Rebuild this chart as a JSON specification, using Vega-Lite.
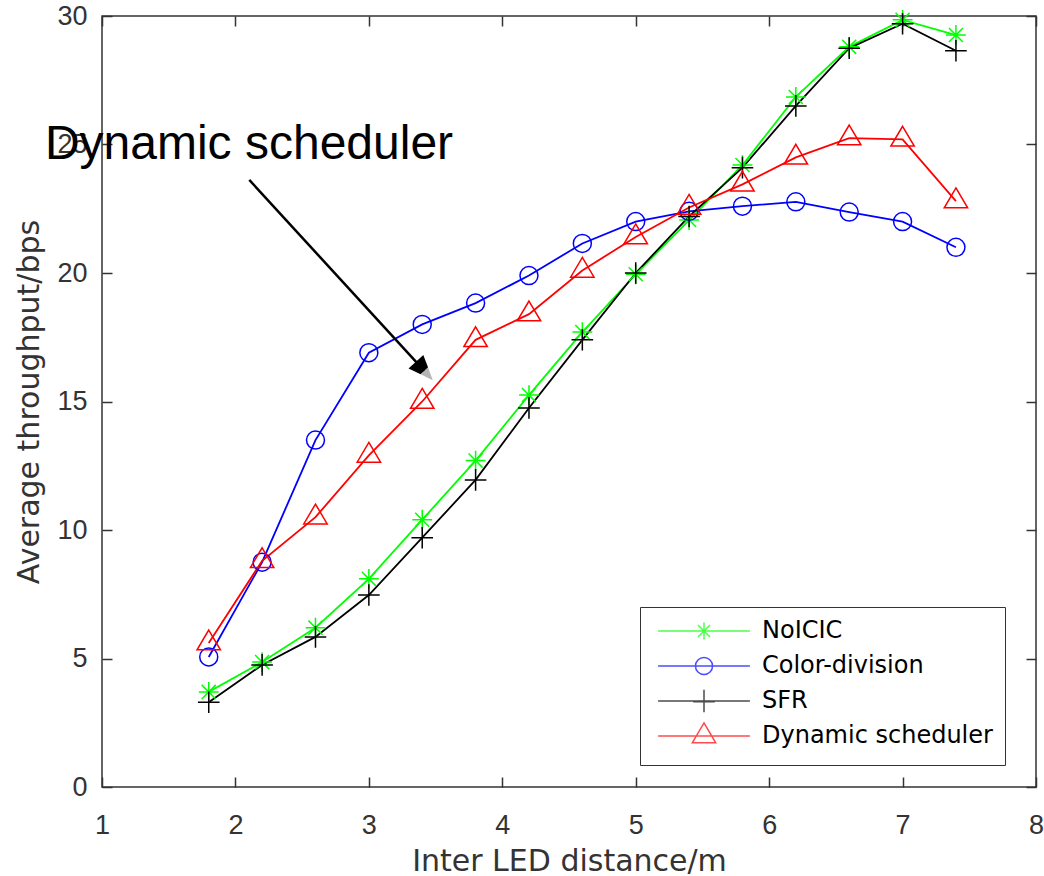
{
  "$schema": "https://vega.github.io/schema/vega-lite/v6.json",
  "width": 934,
  "height": 771,
  "autosize": {"type": "none"},
  "padding": {"left": 102, "top": 16, "right": 8, "bottom": 89},
  "background": "white",
  "config": {
    "view": {"stroke": "#333333", "strokeWidth": 1.5},
    "axis": {
      "domain": false,
      "grid": false,
      "tickColor": "#333333",
      "tickWidth": 1.5,
      "tickSize": -10,
      "labelFont": "Liberation Sans",
      "labelFontSize": 27,
      "labelColor": "#333333",
      "labelFlush": false,
      "labelOverlap": false,
      "titleFont": "DejaVu Sans",
      "titleFontSize": 30,
      "titleFontWeight": "normal",
      "titleColor": "#333333"
    },
    "legend": {
      "orient": "none",
      "legendX": 538,
      "legendY": 591,
      "strokeColor": "#333333",
      "fillColor": "white",
      "padding": 12,
      "labelFont": "DejaVu Sans",
      "labelFontSize": 24,
      "labelColor": "black",
      "labelLimit": 400,
      "symbolSize": 324,
      "symbolStrokeWidth": 1.5,
      "symbolOffset": 40,
      "labelOffset": 46,
      "rowPadding": 1,
      "symbolFillColor": "transparent"
    }
  },
  "datasets": {
    "series": [
      {"s": "NoICIC", "d": 1.8, "t": 3.7},
      {"s": "NoICIC", "d": 2.2, "t": 4.86},
      {"s": "NoICIC", "d": 2.6, "t": 6.2},
      {"s": "NoICIC", "d": 3.0, "t": 8.1},
      {"s": "NoICIC", "d": 3.4, "t": 10.4},
      {"s": "NoICIC", "d": 3.8, "t": 12.7},
      {"s": "NoICIC", "d": 4.2, "t": 15.25},
      {"s": "NoICIC", "d": 4.6, "t": 17.7},
      {"s": "NoICIC", "d": 5.0, "t": 19.95},
      {"s": "NoICIC", "d": 5.4, "t": 22.06},
      {"s": "NoICIC", "d": 5.8, "t": 24.2},
      {"s": "NoICIC", "d": 6.2, "t": 26.85},
      {"s": "NoICIC", "d": 6.6, "t": 28.8},
      {"s": "NoICIC", "d": 7.0, "t": 29.85},
      {"s": "NoICIC", "d": 7.4, "t": 29.26},
      {"s": "Color-division", "d": 1.8, "t": 5.06},
      {"s": "Color-division", "d": 2.2, "t": 8.75},
      {"s": "Color-division", "d": 2.6, "t": 13.5},
      {"s": "Color-division", "d": 3.0, "t": 16.9},
      {"s": "Color-division", "d": 3.4, "t": 18.0},
      {"s": "Color-division", "d": 3.8, "t": 18.83},
      {"s": "Color-division", "d": 4.2, "t": 19.9},
      {"s": "Color-division", "d": 4.6, "t": 21.15},
      {"s": "Color-division", "d": 5.0, "t": 22.0},
      {"s": "Color-division", "d": 5.4, "t": 22.4},
      {"s": "Color-division", "d": 5.8, "t": 22.6},
      {"s": "Color-division", "d": 6.2, "t": 22.77},
      {"s": "Color-division", "d": 6.6, "t": 22.37},
      {"s": "Color-division", "d": 7.0, "t": 22.0},
      {"s": "Color-division", "d": 7.4, "t": 21.0},
      {"s": "SFR", "d": 1.8, "t": 3.3},
      {"s": "SFR", "d": 2.2, "t": 4.75},
      {"s": "SFR", "d": 2.6, "t": 5.84},
      {"s": "SFR", "d": 3.0, "t": 7.47},
      {"s": "SFR", "d": 3.4, "t": 9.7},
      {"s": "SFR", "d": 3.8, "t": 11.95},
      {"s": "SFR", "d": 4.2, "t": 14.75},
      {"s": "SFR", "d": 4.6, "t": 17.4},
      {"s": "SFR", "d": 5.0, "t": 20.0},
      {"s": "SFR", "d": 5.4, "t": 22.2},
      {"s": "SFR", "d": 5.8, "t": 24.1},
      {"s": "SFR", "d": 6.2, "t": 26.5},
      {"s": "SFR", "d": 6.6, "t": 28.75},
      {"s": "SFR", "d": 7.0, "t": 29.7},
      {"s": "SFR", "d": 7.4, "t": 28.65},
      {"s": "Dynamic scheduler", "d": 1.8, "t": 5.6},
      {"s": "Dynamic scheduler", "d": 2.2, "t": 8.8},
      {"s": "Dynamic scheduler", "d": 2.6, "t": 10.5},
      {"s": "Dynamic scheduler", "d": 3.0, "t": 12.9},
      {"s": "Dynamic scheduler", "d": 3.4, "t": 15.0},
      {"s": "Dynamic scheduler", "d": 3.8, "t": 17.4},
      {"s": "Dynamic scheduler", "d": 4.2, "t": 18.4},
      {"s": "Dynamic scheduler", "d": 4.6, "t": 20.1},
      {"s": "Dynamic scheduler", "d": 5.0, "t": 21.4},
      {"s": "Dynamic scheduler", "d": 5.4, "t": 22.55},
      {"s": "Dynamic scheduler", "d": 5.8, "t": 23.45},
      {"s": "Dynamic scheduler", "d": 6.2, "t": 24.5},
      {"s": "Dynamic scheduler", "d": 6.6, "t": 25.25},
      {"s": "Dynamic scheduler", "d": 7.0, "t": 25.2},
      {"s": "Dynamic scheduler", "d": 7.4, "t": 22.8}
    ],
    "note": [{"label": "Dynamic scheduler", "d": 0.572, "t": 24.44}],
    "arrow": [{"d": 2.104, "t": 23.62, "d2": 3.416, "t2": 16.19}],
    "head": [{"d": 3.416, "t": 16.19}]
  },
  "layer": [
    {
      "data": {"values": []},
      "mark": {"type": "point", "filled": false, "strokeWidth": 1.5, "size": 324},
      "encoding": {
        "color": {
          "field": "s", "type": "nominal",
          "scale": {
            "domain": ["NoICIC", "Color-division", "SFR", "Dynamic scheduler"],
            "range": ["#00ff00", "#0000ff", "#000000", "#ff0000"]
          },
          "legend": {"title": null}
        },
        "shape": {
          "field": "s", "type": "nominal",
          "scale": {
            "domain": ["NoICIC", "Color-division", "SFR", "Dynamic scheduler"],
            "range": [
              "M0,-1.5M0,1.5M-5.1,0H5.1M0,-0.95V0.95M-0.95,0H0.95M-0.67,-0.67L0.67,0.67M-0.67,0.67L0.67,-0.67",
              "M0,-1.5M0,1.5M-5.1,0H5.1M0.95,0A0.95,0.95,0,1,1,-0.95,0A0.95,0.95,0,1,1,0.95,0",
              "M0,-1.5M0,1.5M-5.1,0H5.1M0,-1.25V1.25M-1.2,0.08H1.2",
              "M0,-1.5M0,1.5M-5.1,0H5.1M0,-1.45L1.3,0.75L-1.3,0.75Z"
            ]
          },
          "legend": {"title": null}
        }
      }
    },
    {
      "data": {"name": "series"},
      "mark": {"type": "line", "strokeWidth": 1.8},
      "encoding": {
        "x": {
          "field": "d", "type": "quantitative",
          "scale": {"domain": [1, 8], "nice": false, "zero": false},
          "axis": {
            "orient": "bottom",
            "values": [1, 2, 3, 4, 5, 6, 7, 8],
            "labelPadding": 35,
            "title": "Inter LED distance/m",
            "titleY": 83,
            "titleBaseline": "alphabetic"
          }
        },
        "y": {
          "field": "t", "type": "quantitative",
          "scale": {"domain": [0, 30], "nice": false},
          "axis": {
            "orient": "left",
            "values": [0, 5, 10, 15, 20, 25, 30],
            "labelPadding": 25,
            "title": "Average throughput/bps",
            "titleX": -64,
            "titleY": 385.5,
            "titleAngle": -90,
            "titleAlign": "center",
            "titleBaseline": "alphabetic"
          }
        },
        "stroke": {
          "field": "s", "type": "nominal",
          "scale": {
            "domain": ["NoICIC", "Color-division", "SFR", "Dynamic scheduler"],
            "range": ["#00ff00", "#0000ff", "#000000", "#ff0000"]
          },
          "legend": null
        }
      }
    },
    {
      "data": {"name": "series"},
      "transform": [{"filter": "datum.s === 'NoICIC'"}],
      "mark": {"type": "point", "filled": false, "strokeWidth": 1.5, "size": 324, "opacity": 1, "color": "#00ff00", "shape": "M0,-1.1V1.1M-1.1,0H1.1M-0.78,-0.78L0.78,0.78M-0.78,0.78L0.78,-0.78"},
      "encoding": {
        "x": {
          "field": "d", "type": "quantitative",
          "scale": {"domain": [1, 8], "nice": false, "zero": false},
          "axis": {"orient": "top", "values": [1, 2, 3, 4, 5, 6, 7, 8], "labels": false, "title": null}
        },
        "y": {
          "field": "t", "type": "quantitative",
          "scale": {"domain": [0, 30], "nice": false},
          "axis": {"orient": "right", "values": [0, 5, 10, 15, 20, 25, 30], "labels": false, "title": null}
        }
      }
    },
    {
      "data": {"name": "series"},
      "transform": [{"filter": "datum.s === 'Color-division'"}],
      "mark": {"type": "point", "filled": false, "strokeWidth": 1.5, "size": 324, "opacity": 1, "color": "#0000ff", "shape": "circle"},
      "encoding": {
        "x": {"field": "d", "type": "quantitative", "scale": {"domain": [1, 8], "nice": false, "zero": false}, "axis": null},
        "y": {"field": "t", "type": "quantitative", "scale": {"domain": [0, 30], "nice": false}, "axis": null}
      }
    },
    {
      "data": {"name": "series"},
      "transform": [{"filter": "datum.s === 'SFR'"}],
      "mark": {"type": "point", "filled": false, "strokeWidth": 1.5, "size": 324, "opacity": 1, "color": "#000000", "shape": "M0,-1.2V1.2M-1.2,0H1.2"},
      "encoding": {
        "x": {"field": "d", "type": "quantitative", "scale": {"domain": [1, 8], "nice": false, "zero": false}, "axis": null},
        "y": {"field": "t", "type": "quantitative", "scale": {"domain": [0, 30], "nice": false}, "axis": null}
      }
    },
    {
      "data": {"name": "series"},
      "transform": [{"filter": "datum.s === 'Dynamic scheduler'"}],
      "mark": {"type": "point", "filled": false, "strokeWidth": 1.5, "size": 324, "opacity": 1, "color": "#ff0000", "shape": "M0,-1.45L1.3,0.75L-1.3,0.75Z"},
      "encoding": {
        "x": {"field": "d", "type": "quantitative", "scale": {"domain": [1, 8], "nice": false, "zero": false}, "axis": null},
        "y": {"field": "t", "type": "quantitative", "scale": {"domain": [0, 30], "nice": false}, "axis": null}
      }
    },
    {
      "data": {"name": "note"},
      "mark": {"type": "text", "font": "Liberation Sans", "fontSize": 48, "color": "black", "align": "left", "baseline": "alphabetic"},
      "encoding": {
        "x": {"field": "d", "type": "quantitative", "scale": {"domain": [1, 8], "nice": false, "zero": false}, "axis": null},
        "y": {"field": "t", "type": "quantitative", "scale": {"domain": [0, 30], "nice": false}, "axis": null},
        "text": {"field": "label"}
      }
    },
    {
      "data": {"name": "arrow"},
      "mark": {"type": "rule", "color": "black", "strokeWidth": 2.5},
      "encoding": {
        "x": {"field": "d", "type": "quantitative", "scale": {"domain": [1, 8], "nice": false, "zero": false}, "axis": null},
        "y": {"field": "t", "type": "quantitative", "scale": {"domain": [0, 30], "nice": false}, "axis": null},
        "x2": {"field": "d2"},
        "y2": {"field": "t2"}
      }
    },
    {
      "data": {"name": "head"},
      "mark": {"type": "point", "filled": true, "color": "black", "size": 625, "angle": 137.6, "shape": "M-0.8,1L0.8,1L0.4,0L-0.4,0Z", "opacity": 1, "strokeWidth": 0},
      "encoding": {
        "x": {"field": "d", "type": "quantitative", "scale": {"domain": [1, 8], "nice": false, "zero": false}, "axis": null},
        "y": {"field": "t", "type": "quantitative", "scale": {"domain": [0, 30], "nice": false}, "axis": null}
      }
    },
    {
      "data": {"name": "head"},
      "mark": {"type": "point", "filled": true, "color": "#b5b5b5", "size": 625, "angle": 137.6, "shape": "M-0.4,0L0.4,0L0,-1Z", "opacity": 1, "strokeWidth": 0},
      "encoding": {
        "x": {"field": "d", "type": "quantitative", "scale": {"domain": [1, 8], "nice": false, "zero": false}, "axis": null},
        "y": {"field": "t", "type": "quantitative", "scale": {"domain": [0, 30], "nice": false}, "axis": null}
      }
    }
  ],
  "resolve": {"axis": {"x": "independent", "y": "independent"}}
}
